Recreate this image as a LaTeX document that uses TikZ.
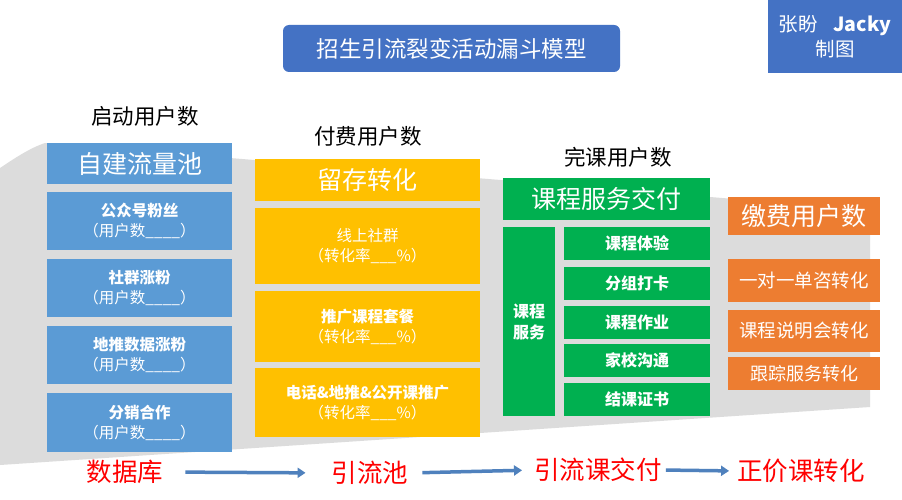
\documentclass[tikz,border=0pt]{standalone}
\usepackage{fontspec}
\setmainfont{Noto Sans CJK SC}
\usetikzlibrary{arrows.meta}
\definecolor{tblue}{HTML}{4472C4}
\definecolor{cblue}{HTML}{5B9BD5}
\definecolor{cyel}{HTML}{FFC000}
\definecolor{cgreen}{HTML}{00B050}
\definecolor{corange}{HTML}{ED7D31}
\definecolor{funnelgray}{HTML}{DCDCDC}
\definecolor{arrblue}{HTML}{4F81BD}
\definecolor{lblred}{HTML}{FF0000}
\begin{document}
\begin{tikzpicture}[x=1pt,y=-1pt,
  box/.style={inner sep=0pt, text=white, align=center},
  bluebox/.style={box, fill=cblue, minimum width=185pt},
  yelbox/.style={box, fill=cyel, minimum width=225pt},
  grnbox/.style={box, fill=cgreen},
  orgbox/.style={box, fill=corange, minimum width=152pt},
  lbl/.style={inner sep=0pt, font=\fontsize{21.5}{24}\selectfont},
  redlbl/.style={inner sep=0pt, text=lblred, font=\fontsize{25.5}{28}\selectfont},
  flow/.style={draw=arrblue, line width=3.5pt, -{Triangle[length=8pt,width=10pt]}},
  sub/.style={font=\fontsize{15.5}{20}\selectfont}
]
\useasboundingbox (0,0) rectangle (902,500);
\fill[white] (0,0) rectangle (902,500);
% funnel background
\fill[funnelgray] (0,168) .. controls (15,158) and (30,148) .. (45,143) -- (870,210) -- (870,407) -- (0,465) -- cycle;

% title and author
\node[box, fill=tblue, rounded corners=6pt, minimum width=337pt, minimum height=47pt,
  font=\fontsize{22.5}{24}\selectfont] (title) at (451.5,48.5) {招生引流裂变活动漏斗模型};
\node[box, fill=tblue, minimum width=134pt, minimum height=73pt,
  font=\fontsize{19.5}{25}\selectfont] (author) at (835,36.5) {张盼\hspace{0.8em}{\bfseries Jacky}\\制图};

% column labels
\node[lbl] (l1) at (145,116) {启动用户数};
\node[lbl] (l2) at (368,136) {付费用户数};
\node[lbl] (l3) at (618,157) {完课用户数};

% blue column
\node[bluebox, minimum height=41pt, font=\fontsize{25}{28}\selectfont] (b0) at (139.5,163.5) {自建流量池};
\node[bluebox, minimum height=58pt, sub] (b1) at (139.5,221) {\bfseries 公众号粉丝\\（用户数\_\_\_\_）};
\node[bluebox, minimum height=58pt, sub] (b2) at (139.5,288) {\bfseries 社群涨粉\\（用户数\_\_\_\_）};
\node[bluebox, minimum height=58pt, sub] (b3) at (139.5,355) {\bfseries 地推数据涨粉\\（用户数\_\_\_\_）};
\node[bluebox, minimum height=59pt, sub] (b4) at (139.5,422.5) {\bfseries 分销合作\\（用户数\_\_\_\_）};

% yellow column
\node[yelbox, minimum height=42pt, font=\fontsize{25}{28}\selectfont] (y0) at (367.5,180) {留存转化};
\node[yelbox, minimum height=76pt, sub] (y1) at (367.5,246) {线上社群\\（转化率\_\_\_\%）};
\node[yelbox, minimum height=71pt, sub] (y2) at (367.5,326.5) {\bfseries 推广课程套餐\\（转化率\_\_\_\%）};
\node[yelbox, minimum height=69pt, sub] (y3) at (367.5,402.5) {\bfseries 电话\&地推\&公开课推广\\（转化率\_\_\_\%）};

% green column
\node[grnbox, minimum width=207pt, minimum height=42pt, font=\fontsize{25}{28}\selectfont] (g0) at (606.5,199) {课程服务交付};
\node[grnbox, minimum width=52pt, minimum height=189pt, font=\bfseries\fontsize{16}{21}\selectfont] (gs) at (529,321.5) {课程\\服务};
\node[grnbox, minimum width=146pt, minimum height=33pt, font=\bfseries\fontsize{16}{20}\selectfont] (g1) at (637,243.5) {课程体验};
\node[grnbox, minimum width=146pt, minimum height=33pt, font=\bfseries\fontsize{16}{20}\selectfont] (g2) at (637,283.5) {分组打卡};
\node[grnbox, minimum width=146pt, minimum height=33pt, font=\bfseries\fontsize{16}{20}\selectfont] (g3) at (637,322.5) {课程作业};
\node[grnbox, minimum width=146pt, minimum height=33pt, font=\bfseries\fontsize{16}{20}\selectfont] (g4) at (637,360.5) {家校沟通};
\node[grnbox, minimum width=146pt, minimum height=33pt, font=\bfseries\fontsize{16}{20}\selectfont] (g5) at (637,399.5) {结课证书};

% orange column
\node[orgbox, minimum height=38pt, font=\fontsize{25}{28}\selectfont] (o0) at (804,216) {缴费用户数};
\node[orgbox, minimum height=43pt, font=\fontsize{18.5}{22}\selectfont] (o1) at (804,280.5) {一对一单咨转化};
\node[orgbox, minimum height=42pt, font=\fontsize{18.5}{22}\selectfont] (o2) at (804,331) {课程说明会转化};
\node[orgbox, minimum height=33pt, font=\fontsize{18}{22}\selectfont] (o3) at (804,373.5) {跟踪服务转化};

% bottom flow
\node[redlbl] (f1) at (125,472) {数据库};
\node[redlbl] (f2) at (370,473) {引流池};
\node[redlbl] (f3) at (598,470) {引流课交付};
\node[redlbl] (f4) at (801,471) {正价课转化};
\draw[flow, shorten <=22pt, shorten >=26pt] (f1.east) -- (f2.west);
\draw[flow, shorten <=14pt, shorten >=12pt] (f2.east) -- (f3.west);
\draw[flow, shorten <=4pt, shorten >=8pt] (f3.east) -- (f4.west);
\end{tikzpicture}
\end{document}
